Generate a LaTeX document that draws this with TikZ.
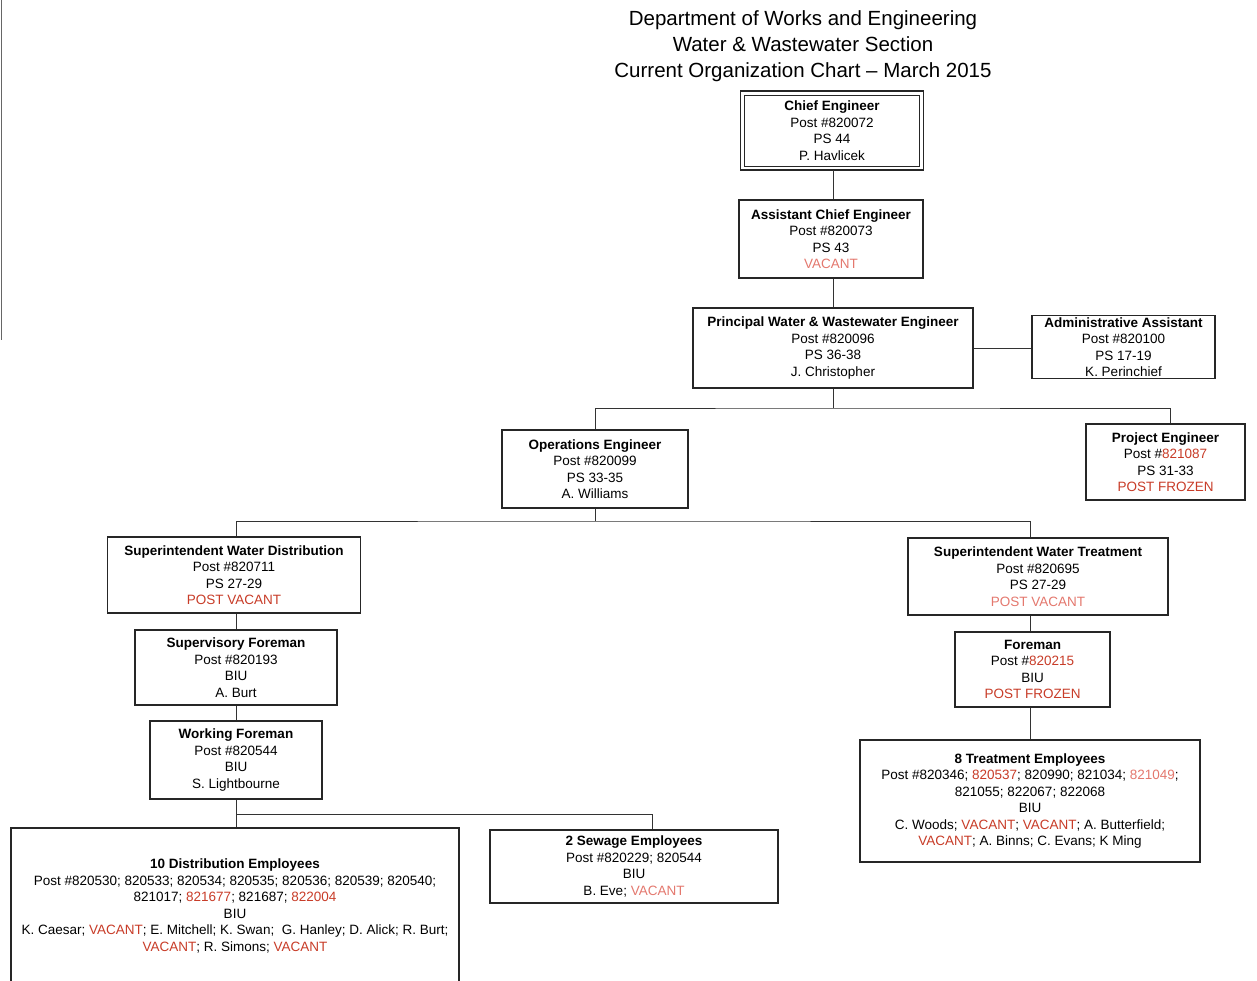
\documentclass[tikz,border=0pt]{standalone}
\usepackage{fontspec}
\setmainfont{Liberation Sans}
\definecolor{vred}{RGB}{200,60,40}
\definecolor{fred}{RGB}{228,120,110}
\newcommand{\bxfont}{\fontsize{13.5}{16.5}\selectfont}
\newcommand{\ttlfont}{\fontsize{20.5}{26}\selectfont}
\newcommand{\rd}[1]{\textcolor{vred}{#1}}
\newcommand{\fr}[1]{\textcolor{fred}{#1}}
\begin{document}
\begin{tikzpicture}[x=1pt,y=-1pt,
  box/.style={draw=black!85, line width=1.1pt, align=center, inner sep=0pt, font=\bxfont},
  conn/.style={draw=black!80, line width=1pt}]
\useasboundingbox (0,0) rectangle (1257,980);
\fill[white] (0,0) rectangle (1257,980);
\draw[black!60, line width=1pt] (1,0) -- (1,340);
\node[font=\ttlfont, align=center, inner sep=0pt] (title) at (803,46)
  {Department of Works and Engineering\\Water \& Wastewater Section\\Current Organization Chart -- March 2015};
\node[box, line width=0.9pt, minimum width=175pt, minimum height=71pt] (chief) at (832,130.5)
  {\textbf{Chief Engineer}\\Post \#820072\\PS 44\\P. Havlicek};
\draw[black!85, line width=1.4pt] ([shift={(-3.5,-3.5)}]chief.north west) rectangle ([shift={(3.5,3.5)}]chief.south east);
\node[box, minimum width=184pt, minimum height=78pt] (assist) at (831,239)
  {\textbf{Assistant Chief Engineer}\\Post \#820073\\PS 43\\\fr{VACANT}};
\node[box, minimum width=280pt, minimum height=80pt] (princ) at (833,348)
  {\textbf{Principal Water \& Wastewater Engineer}\\Post \#820096\\PS 36-38\\J. Christopher};
\node[box, minimum width=183pt, minimum height=63pt] (admin) at (1123.5,347)
  {\textbf{Administrative Assistant}\\Post \#820100\\PS 17-19\\K. Perinchief};
\node[box, minimum width=186pt, minimum height=78pt] (ops) at (595,469)
  {\textbf{Operations Engineer}\\Post \#820099\\PS 33-35\\A. Williams};
\node[box, minimum width=159pt, minimum height=76pt] (proj) at (1165.5,462)
  {\textbf{Project Engineer}\\Post \#\rd{821087}\\PS 31-33\\\rd{POST FROZEN}};
\node[box, minimum width=253pt, minimum height=76pt] (swd) at (234,575)
  {\textbf{Superintendent Water Distribution}\\Post \#820711\\PS 27-29\\\rd{POST VACANT}};
\node[box, minimum width=202pt, minimum height=75pt] (supf) at (236,667.5)
  {\textbf{Supervisory Foreman}\\Post \#820193\\BIU\\A. Burt};
\node[box, minimum width=172pt, minimum height=78pt] (workf) at (236,760)
  {\textbf{Working Foreman}\\Post \#820544\\BIU\\S. Lightbourne};
\node[box, minimum width=448pt, minimum height=156pt] (dist) at (235,906)
  {\textbf{10 Distribution Employees}\\Post \#820530; 820533; 820534; 820535; 820536; 820539; 820540;\\821017; \rd{821677}; 821687; \rd{822004}\\BIU\\K. Caesar; \rd{VACANT}; E. Mitchell; K. Swan;~ G. Hanley; D. Alick; R. Burt;\\\rd{VACANT}; R. Simons; \rd{VACANT}};
\node[box, minimum width=288pt, minimum height=73pt] (sew) at (634,866.5)
  {\textbf{2 Sewage Employees}\\Post \#820229; 820544\\BIU\\B. Eve; \fr{VACANT}};
\node[box, minimum width=260pt, minimum height=77pt] (swt) at (1038,576.5)
  {\textbf{Superintendent Water Treatment}\\Post \#820695\\PS 27-29\\\fr{POST VACANT}};
\node[box, minimum width=155pt, minimum height=75pt] (fore) at (1032.5,669.5)
  {\textbf{Foreman}\\Post \#\rd{820215}\\BIU\\\rd{POST FROZEN}};
\node[box, minimum width=340pt, minimum height=122pt] (treat) at (1030,801)
  {\textbf{8 Treatment Employees}\\Post \#820346; \rd{820537}; 820990; 821034; \fr{821049};\\821055; 822067; 822068\\BIU\\C. Woods; \rd{VACANT}; \rd{VACANT}; A. Butterfield;\\\rd{VACANT}; A. Binns; C. Evans; K Ming};
% connectors
\coordinate (xc) at (833,0);
\coordinate (b1) at (833,408);
\coordinate (pj) at (1170,0);
\coordinate (b2) at (595,521);
\coordinate (xt) at (1030,0);
\coordinate (b3) at (236,814);
\coordinate (xs) at (652,0);
\draw[conn] ([yshift=-3.5pt]chief.south -| xc) -- (assist.north -| xc);
\draw[conn] (assist.south -| xc) -- (princ.north -| xc);
\draw[conn] (princ.east) -- (princ.east -| admin.west);
\draw[conn] (princ.south -| xc) -- (b1);
\draw[conn] (ops.north) |- (b1) -| (proj.north -| pj);
\draw[conn] (ops.south) -- (b2);
\draw[conn] (swd.north -| b3) |- (b2) -| (swt.north -| xt);
\draw[conn] (swd.south -| b3) -- (supf.north);
\draw[conn] (supf.south) -- (workf.north);
\draw[conn] (workf.south) -- (dist.north -| workf.south);
\draw[conn] (b3) -| (sew.north -| xs);
\draw[conn] (swt.south -| xt) -- (fore.north -| xt);
\draw[conn] (fore.south -| xt) -- (treat.north -| xt);
\end{tikzpicture}
\end{document}
